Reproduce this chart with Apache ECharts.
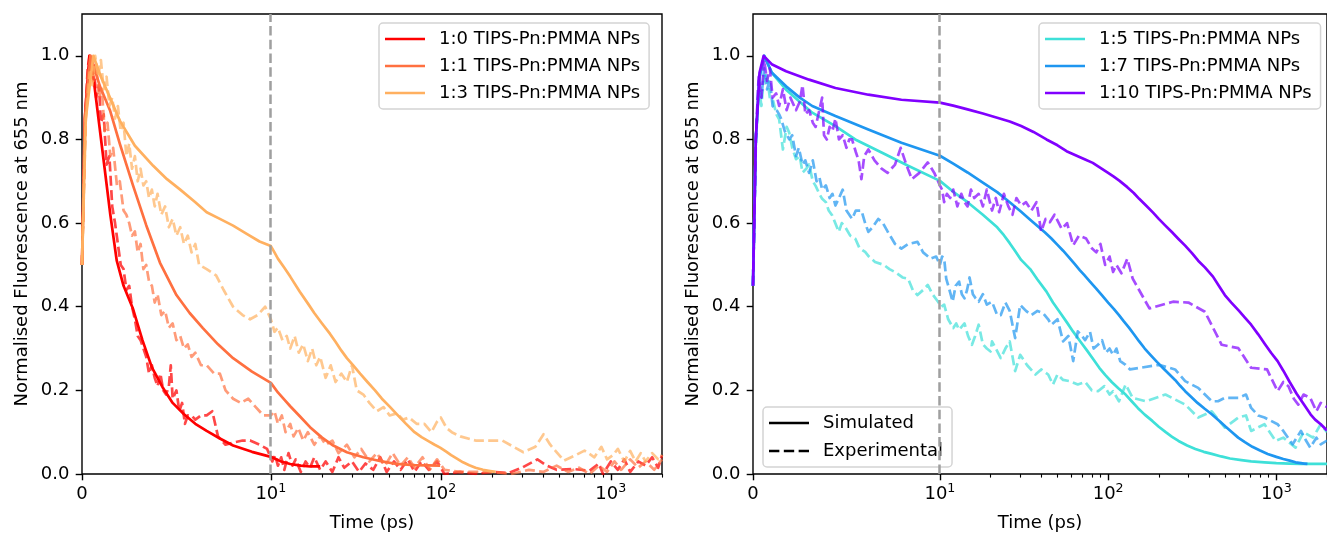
<!DOCTYPE html>
<html><head><meta charset="utf-8">
<script src="https://cdn.jsdelivr.net/npm/echarts@6/dist/echarts.min.js"></script>
<style>html,body{margin:0;padding:0;background:#fff}#c{width:1327px;height:537px}</style>
</head><body><div id="c"></div>
<script>
// ---------------- DATA (time in ps, normalised fluorescence) ----------------
const namesLeft = ['1:0 TIPS-Pn:PMMA NPs', '1:1 TIPS-Pn:PMMA NPs', '1:3 TIPS-Pn:PMMA NPs'];
const namesRight = ['1:5 TIPS-Pn:PMMA NPs', '1:7 TIPS-Pn:PMMA NPs', '1:10 TIPS-Pn:PMMA NPs'];
const styleNames = ['Simulated', 'Experimental'];
const refLineTime = 10;
const majorTickTimes = [0, 10, 100, 1000];
const majorTickLabels = ['{b|0}', '{b|10}{s|1}', '{b|10}{s|2}', '{b|10}{s|3}'];
const minorTickTimes = [20, 30, 40, 50, 60, 70, 80, 90, 200, 300, 400, 500, 600, 700, 800, 900, 2000];
const yTickValues = [0, 0.2, 0.4, 0.6, 0.8, 1.0];

const sim_1_0 = [[0,0.5],[0.15,0.85],[0.39,1.0],[0.6,0.95],[0.9,0.84],[1.2,0.73],[1.5,0.62],[1.84,0.51],[2.2,0.45],[2.7,0.395],[3.2,0.32],[3.7,0.255],[4.3,0.205],[4.8,0.17],[5.4,0.143],[6.0,0.12],[6.6,0.103],[7.3,0.085],[8.0,0.068],[9.0,0.053],[10,0.041],[11.5,0.03],[13,0.024],[15,0.02],[17,0.018],[19.5,0.018]];
const sim_1_1 = [[0,0.5],[0.15,0.85],[0.45,1.0],[0.95,0.927],[1.48,0.87],[2.0,0.79],[2.7,0.69],[3.4,0.595],[4.13,0.505],[5.0,0.428],[5.7,0.385],[6.4,0.349],[7.2,0.31],[8.0,0.277],[9.0,0.245],[10,0.218],[11,0.195],[12,0.178],[13,0.162],[14.8,0.138],[17,0.112],[20,0.087],[23.3,0.068],[28,0.052],[35,0.04],[45,0.03],[55,0.024],[70,0.021],[99,0.02]];
const sim_1_3 = [[0,0.5],[0.2,0.85],[0.6,1.0],[1.0,0.95],[1.48,0.9],[2.0,0.845],[2.8,0.785],[3.77,0.737],[4.5,0.705],[5.2,0.68],[6.0,0.65],[6.6,0.626],[7.3,0.61],[8.0,0.594],[8.7,0.575],[9.4,0.556],[10,0.545],[10.5,0.53],[11,0.515],[12,0.493],[13,0.472],[14.8,0.436],[16.5,0.408],[18,0.385],[20,0.36],[22.3,0.335],[24,0.316],[26,0.295],[28,0.277],[30.5,0.26],[33.5,0.24],[37,0.22],[41,0.2],[45,0.18],[50,0.161],[55,0.143],[62,0.121],[70,0.1],[77,0.088],[85,0.078],[92,0.07],[99,0.063],[107,0.054],[115,0.045],[125,0.036],[135,0.028],[147,0.021],[160,0.015],[177,0.01],[195,0.007],[210,0.005]];

const exp_1_0 = [[0,0.5],[0.1,0.7],[0.2,0.88],[0.3,0.97],[0.4,1.0],[0.5,0.96],[0.6,0.99],[0.75,0.9],[0.9,0.93],[1.0,0.84],[1.15,0.86],[1.3,0.74],[1.45,0.76],[1.6,0.64],[1.75,0.6],[1.9,0.55],[2.05,0.5],[2.2,0.49],[2.35,0.44],[2.5,0.45],[2.65,0.4],[2.8,0.37],[2.95,0.33],[3.1,0.32],[3.25,0.3],[3.4,0.28],[3.55,0.24],[3.7,0.26],[3.85,0.23],[4.0,0.21],[4.15,0.24],[4.3,0.2],[4.45,0.19],[4.6,0.21],[4.7,0.26],[4.8,0.18],[5.0,0.2],[5.15,0.15],[5.3,0.17],[5.45,0.12],[5.6,0.14],[5.8,0.14],[6.0,0.13],[6.3,0.14],[6.6,0.14],[6.9,0.15],[7.2,0.09],[7.6,0.07],[8.0,0.075],[8.5,0.08],[8.9,0.08],[9.4,0.07],[9.8,0.06],[10.2,0.03],[10.6,0.045],[11,0.02],[11.5,0.04],[12,0.01],[12.7,0.05],[13.4,0.02],[14,0.035],[15,0.005],[16,0.03],[17,0.015],[18,0.04],[19.5,0.01],[21,0.03],[23,0.005],[25,0.04],[27,0.015],[30,0.03],[33,0.005],[36,0.025],[40,0.01],[44,0.04],[48,0.005],[53,0.03],[58,0.01],[64,0.035],[70,0.005],[77,0.03],[85,0.01],[95,0.03],[105,0.0],[130,0.005],[160,0.0],[200,0.005],[250,0.002],[300,0.015],[370,0.035],[420,0.02],[480,0.01],[600,0.012],[750,0.008],[850,0.025],[900,0.0],[1000,0.03],[1100,0.01],[1200,0.035],[1300,0.005],[1450,0.03],[1600,0.02],[1750,0.04],[1900,0.015],[2000,0.045]];
const exp_1_1 = [[0,0.5],[0.15,0.8],[0.3,0.95],[0.45,1.0],[0.6,0.94],[0.75,0.98],[0.9,0.9],[1.05,0.92],[1.2,0.82],[1.35,0.84],[1.5,0.76],[1.65,0.78],[1.85,0.69],[2.0,0.7],[2.2,0.63],[2.35,0.62],[2.5,0.6],[2.65,0.57],[2.8,0.58],[2.95,0.53],[3.1,0.55],[3.25,0.49],[3.4,0.5],[3.55,0.46],[3.7,0.45],[3.85,0.41],[4.0,0.43],[4.2,0.38],[4.4,0.39],[4.6,0.35],[4.8,0.36],[5.0,0.32],[5.2,0.33],[5.4,0.3],[5.6,0.31],[5.8,0.28],[6.0,0.29],[6.3,0.26],[6.6,0.26],[7.0,0.24],[7.3,0.24],[7.6,0.2],[8.0,0.18],[8.4,0.17],[8.8,0.18],[9.2,0.16],[9.6,0.14],[10.0,0.14],[10.5,0.15],[11,0.12],[11.6,0.14],[12.2,0.1],[13,0.12],[13.6,0.09],[14.5,0.11],[15.5,0.08],[16.5,0.1],[18,0.07],[19.5,0.09],[21,0.07],[23,0.08],[25,0.05],[28,0.07],[31,0.04],[34,0.06],[38,0.03],[42,0.05],[47,0.02],[52,0.05],[58,0.02],[64,0.04],[70,0.015],[78,0.04],[86,0.01],[95,0.035],[105,0.01],[130,0.005],[200,0.005],[260,0.0],[330,0.01],[400,0.005],[480,0.02],[560,0.005],[650,0.015],[750,0.0],[850,0.02],[950,0.005],[1050,0.03],[1150,0.01],[1300,0.035],[1450,0.015],[1600,0.03],[1800,0.01],[2000,0.035]];
const exp_1_3 = [[0,0.5],[0.2,0.85],[0.4,0.96],[0.55,0.93],[0.7,1.0],[0.85,0.95],[1.0,0.99],[1.15,0.92],[1.3,0.95],[1.45,0.88],[1.6,0.9],[1.75,0.85],[1.9,0.88],[2.05,0.82],[2.2,0.84],[2.35,0.76],[2.5,0.79],[2.65,0.73],[2.8,0.76],[2.95,0.7],[3.1,0.73],[3.25,0.69],[3.4,0.7],[3.55,0.66],[3.7,0.68],[3.85,0.64],[4.0,0.67],[4.2,0.62],[4.4,0.64],[4.6,0.59],[4.8,0.61],[5.0,0.57],[5.2,0.59],[5.4,0.55],[5.6,0.57],[5.8,0.53],[6.0,0.55],[6.2,0.5],[6.6,0.49],[7.1,0.475],[7.5,0.44],[8.0,0.4],[8.5,0.38],[8.9,0.37],[9.3,0.38],[9.7,0.4],[10.0,0.37],[10.5,0.34],[11,0.35],[11.7,0.32],[12.4,0.33],[13,0.3],[13.8,0.33],[14.6,0.29],[15.5,0.31],[16.5,0.27],[17.5,0.3],[18.5,0.26],[19.5,0.28],[21,0.23],[22.5,0.26],[24,0.22],[26,0.24],[28,0.22],[30,0.26],[32,0.2],[35,0.19],[38,0.17],[42,0.15],[46,0.16],[50,0.14],[55,0.145],[60,0.13],[65,0.135],[72,0.12],[80,0.12],[88,0.1],[95,0.125],[100,0.135],[108,0.11],[116,0.1],[130,0.09],[160,0.08],[230,0.08],[306,0.052],[360,0.065],[402,0.095],[440,0.07],[530,0.032],[620,0.045],[700,0.056],[800,0.04],[880,0.065],[950,0.035],[1030,0.045],[1100,0.06],[1200,0.03],[1300,0.055],[1400,0.03],[1500,0.05],[1600,0.03],[1750,0.05],[1900,0.035],[2000,0.045]];

const sim_1_5 = [[0,0.45],[0.15,0.8],[0.35,0.95],[0.6,1.0],[1.0,0.96],[1.77,0.919],[2.5,0.89],[3.17,0.864],[4.41,0.832],[5.47,0.8],[6.88,0.769],[8.3,0.737],[10,0.701],[12,0.675],[14.6,0.65],[18,0.62],[21.9,0.59],[24,0.571],[26,0.552],[28,0.533],[30.4,0.512],[34.4,0.49],[38,0.465],[43,0.436],[47,0.41],[52,0.385],[57,0.362],[61.8,0.341],[68,0.318],[75,0.295],[82,0.273],[88.6,0.254],[96,0.237],[105,0.22],[115,0.205],[127,0.19],[138,0.174],[150,0.158],[165,0.142],[183,0.127],[200,0.113],[220,0.1],[240,0.089],[262,0.079],[295,0.068],[330,0.06],[370,0.053],[413,0.048],[470,0.042],[530,0.037],[620,0.033],[708,0.03],[850,0.028],[1000,0.026],[1200,0.025],[1400,0.024],[2000,0.024]];
const sim_1_7 = [[0,0.45],[0.15,0.8],[0.35,0.95],[0.6,1.0],[1.0,0.96],[1.77,0.927],[2.5,0.9],[3.17,0.88],[4.41,0.856],[6.17,0.824],[7.94,0.792],[10,0.761],[12,0.742],[14.6,0.721],[18,0.697],[21.9,0.674],[26,0.65],[30.4,0.627],[34,0.61],[38,0.593],[42,0.578],[46,0.563],[50,0.548],[54,0.534],[58,0.52],[63,0.503],[68,0.487],[72,0.476],[78,0.46],[84.7,0.444],[92,0.427],[100,0.41],[108,0.395],[116,0.38],[124,0.365],[133,0.35],[143,0.333],[153,0.317],[165,0.3],[180,0.283],[195,0.268],[211,0.254],[230,0.239],[250,0.225],[268,0.211],[287,0.198],[312,0.184],[340,0.17],[375,0.156],[413,0.143],[455,0.128],[500,0.113],[545,0.1],[593,0.087],[650,0.076],[720,0.065],[800,0.056],[888,0.048],[1000,0.041],[1100,0.036],[1200,0.032],[1300,0.028],[1400,0.026],[1459,0.025],[1530,0.024]];
const sim_1_10 = [[0,0.45],[0.15,0.8],[0.35,0.96],[0.57,1.0],[1.0,0.98],[1.77,0.963],[3.0,0.943],[4.41,0.923],[6.17,0.907],[7.94,0.895],[10,0.888],[12,0.881],[14.6,0.872],[18,0.862],[21.9,0.852],[26,0.843],[30.4,0.832],[36,0.818],[43,0.8],[50,0.786],[56.6,0.772],[65,0.761],[73,0.752],[81,0.744],[90,0.732],[100,0.72],[108,0.711],[117,0.701],[130,0.686],[142,0.672],[153,0.658],[168,0.642],[185,0.625],[200,0.61],[219,0.594],[240,0.578],[262,0.562],[287,0.546],[315,0.528],[343,0.51],[376,0.494],[420,0.472],[460,0.447],[494,0.428],[540,0.41],[600,0.39],[650,0.374],[708,0.357],[780,0.334],[850,0.312],[930,0.29],[1017,0.27],[1100,0.247],[1200,0.22],[1320,0.192],[1459,0.166],[1600,0.142],[1700,0.13],[1836,0.119],[2000,0.104]];

const exp_1_5 = [[0,0.45],[0.15,0.78],[0.3,0.93],[0.45,0.88],[0.6,0.96],[0.75,0.95],[0.9,0.9],[1.06,0.895],[1.25,0.86],[1.4,0.848],[1.6,0.776],[1.8,0.83],[1.94,0.816],[2.1,0.78],[2.3,0.753],[2.5,0.76],[2.65,0.721],[2.85,0.73],[3.0,0.74],[3.2,0.7],[3.35,0.689],[3.55,0.67],[3.7,0.658],[3.9,0.65],[4.05,0.63],[4.24,0.618],[4.4,0.6],[4.59,0.579],[4.75,0.6],[4.94,0.59],[5.2,0.57],[5.47,0.563],[5.7,0.54],[6.0,0.531],[6.2,0.52],[6.53,0.507],[7.0,0.5],[7.3,0.49],[7.6,0.483],[8.0,0.47],[8.3,0.467],[8.55,0.44],[8.8,0.428],[9.1,0.44],[9.35,0.452],[9.6,0.43],[9.9,0.412],[10.2,0.4],[10.6,0.405],[11.2,0.37],[12.0,0.349],[12.5,0.36],[13,0.345],[14,0.36],[14.7,0.33],[15.5,0.309],[16.2,0.33],[17,0.357],[18,0.31],[19,0.3],[20,0.293],[20.4,0.317],[21.5,0.3],[23,0.277],[24.5,0.3],[26,0.317],[28,0.246],[30,0.285],[33,0.26],[37,0.238],[40,0.25],[44,0.238],[47,0.214],[50,0.238],[54,0.225],[59,0.222],[66,0.214],[73,0.22],[80,0.2],[87,0.198],[95,0.21],[102,0.19],[107,0.198],[116,0.174],[127,0.214],[140,0.182],[168,0.174],[219,0.19],[287,0.166],[343,0.135],[413,0.15],[494,0.111],[594,0.135],[660,0.14],[708,0.103],[850,0.119],[990,0.079],[1100,0.087],[1300,0.063],[1450,0.1],[1650,0.087],[1836,0.119],[2000,0.1]];
const exp_1_7 = [[0,0.45],[0.15,0.8],[0.3,0.94],[0.45,0.9],[0.6,0.97],[0.75,0.92],[0.9,0.943],[1.05,0.88],[1.24,0.872],[1.4,0.86],[1.5,0.85],[1.7,0.82],[1.94,0.8],[2.1,0.81],[2.3,0.76],[2.45,0.78],[2.65,0.74],[2.8,0.75],[3.0,0.72],[3.2,0.75],[3.4,0.7],[3.55,0.71],[3.7,0.68],[3.9,0.69],[4.1,0.66],[4.25,0.67],[4.41,0.642],[4.6,0.66],[4.8,0.68],[5.0,0.63],[5.3,0.61],[5.5,0.63],[5.8,0.63],[6.0,0.6],[6.17,0.579],[6.4,0.59],[6.7,0.61],[6.95,0.6],[7.2,0.58],[7.6,0.55],[7.94,0.539],[8.3,0.55],[8.8,0.555],[9.1,0.53],[9.5,0.515],[9.8,0.52],[10,0.5],[10.3,0.52],[10.6,0.515],[10.9,0.467],[11.4,0.44],[11.9,0.412],[12.4,0.45],[13,0.46],[13.5,0.43],[14,0.42],[14.5,0.44],[15,0.47],[15.7,0.43],[16.3,0.42],[17,0.412],[18,0.43],[19,0.405],[20.4,0.412],[21.9,0.38],[23,0.38],[24.5,0.41],[26,0.39],[28,0.325],[30,0.404],[32.5,0.39],[35,0.38],[38,0.39],[41,0.385],[44,0.37],[46,0.357],[50,0.37],[54,0.317],[58,0.33],[62,0.27],[66,0.341],[70,0.33],[73,0.32],[78,0.34],[82,0.3],[87,0.309],[92,0.32],[97,0.29],[102,0.3],[107,0.285],[112,0.3],[118,0.27],[127,0.261],[135,0.25],[200,0.261],[250,0.25],[287,0.222],[343,0.206],[413,0.174],[450,0.174],[494,0.182],[594,0.182],[660,0.19],[708,0.158],[780,0.14],[850,0.135],[1017,0.119],[1100,0.103],[1250,0.071],[1400,0.103],[1500,0.08],[1590,0.063],[1730,0.087],[1836,0.071],[2000,0.08]];
const exp_1_10 = [[0,0.45],[0.15,0.8],[0.3,0.95],[0.45,0.9],[0.6,0.99],[0.75,0.94],[0.9,0.97],[1.05,0.9],[1.24,0.91],[1.4,0.88],[1.6,0.92],[1.8,0.87],[2.0,0.9],[2.3,0.87],[2.5,0.89],[2.65,0.93],[2.8,0.86],[3.0,0.87],[3.2,0.84],[3.35,0.83],[3.5,0.86],[3.7,0.9],[3.8,0.81],[3.95,0.8],[4.1,0.83],[4.25,0.82],[4.41,0.85],[4.6,0.8],[4.8,0.81],[5.0,0.78],[5.15,0.8],[5.3,0.8],[5.5,0.77],[5.65,0.75],[5.8,0.705],[5.95,0.76],[6.17,0.776],[6.5,0.75],[6.88,0.73],[7.2,0.72],[7.6,0.74],[7.9,0.78],[8.2,0.74],[8.5,0.705],[8.9,0.72],[9.35,0.745],[9.7,0.72],[10.0,0.69],[10.3,0.68],[10.6,0.65],[11.0,0.67],[11.5,0.66],[12.0,0.68],[12.7,0.64],[13.4,0.67],[14,0.65],[14.6,0.64],[15.3,0.68],[16,0.66],[17,0.67],[18,0.64],[19,0.68],[20.4,0.63],[21.5,0.66],[22.5,0.626],[24,0.67],[25.5,0.64],[27,0.62],[28.5,0.66],[30.4,0.642],[32.5,0.65],[35,0.63],[37.5,0.65],[40,0.58],[42.5,0.61],[45,0.602],[48,0.62],[53,0.586],[57,0.6],[62,0.547],[67,0.57],[74,0.563],[80,0.54],[85,0.53],[90,0.55],[96,0.5],[102,0.52],[107,0.483],[112,0.5],[120,0.48],[130,0.515],[140,0.467],[176,0.396],[243,0.412],[300,0.41],[376,0.388],[473,0.309],[594,0.301],[708,0.254],[880,0.25],[1017,0.198],[1100,0.22],[1180,0.21],[1270,0.18],[1350,0.166],[1450,0.19],[1590,0.182],[1730,0.15],[1836,0.17],[2000,0.16]];

// ---------------- SCALE: matplotlib-like symlog (linthresh 10, linscale 1) ----------------
const LINTHRESH = 10, LINSCALE = 1 / (1 - 1 / 10);
function sx(x) { return x <= LINTHRESH ? x / LINTHRESH * LINSCALE : LINSCALE + Math.log10(x / LINTHRESH); }
const X_MAX = sx(2000);
const toXY = arr => arr.map(p => [sx(p[0]), p[1]]);

const FONT = 'DejaVu Sans';
const LW = 2.7, DASH = [10, 4.3];
const colorsLeft = ['#ff0000', '#ff7040', '#ffb060'];
const expColorsLeft = ['rgba(255,0,0,0.72)', 'rgba(255,112,64,0.7)', 'rgba(255,176,96,0.7)'];
const colorsRight = ['#3ee0d8', '#1e96f0', '#8000ff'];
const expColorsRight = ['rgba(62,224,216,0.7)', 'rgba(30,150,240,0.7)', 'rgba(128,0,255,0.7)'];
const ICON_SOLID = 'path://M0,0h40v2.7h-40z';
const ICON_DASHED = 'path://M0,0h10v2.7h-10z M14.3,0h10v2.7h-10z M28.6,0h10v2.7h-10z';

function xLabel(v) {
  for (let i = 0; i < majorTickTimes.length; i++) {
    if (Math.abs(sx(majorTickTimes[i]) - v) < 1e-6) return majorTickLabels[i];
  }
  return '';
}
function xMajor(gi) {
  return {
    type: 'value', gridIndex: gi, min: 0, max: X_MAX, position: 'bottom',
    axisLine: { show: false }, splitLine: { show: false },
    axisTick: { show: true, customValues: majorTickTimes.map(sx), length: 6.3, lineStyle: { color: '#000', width: 1.4 } },
    axisLabel: {
      customValues: majorTickTimes.map(sx), formatter: xLabel, margin: 10, color: '#000',
      rich: {
        b: { fontFamily: FONT, fontSize: 18, color: '#000', lineHeight: 20 },
        s: { fontFamily: FONT, fontSize: 12.6, color: '#000', lineHeight: 20, padding: [0, 0, 10, 0] }
      }
    },
    name: 'Time (ps)', nameLocation: 'middle', nameGap: 40,
    nameTextStyle: { fontFamily: FONT, fontSize: 18, color: '#000' }
  };
}
function xMinor(gi) {
  return {
    type: 'value', gridIndex: gi, min: 0, max: X_MAX, position: 'bottom',
    axisLine: { show: false }, splitLine: { show: false },
    axisTick: { show: true, customValues: minorTickTimes.map(sx), length: 3.6, lineStyle: { color: '#000', width: 1.1 } },
    axisLabel: { show: false }
  };
}
function yAx(gi) {
  return {
    type: 'value', gridIndex: gi, min: 0, max: 1.1,
    axisLine: { show: false }, splitLine: { show: false },
    axisTick: { show: true, customValues: yTickValues, length: 6.3, lineStyle: { color: '#000', width: 1.4 } },
    axisLabel: { customValues: yTickValues, formatter: v => v.toFixed(1), margin: 12.6, fontFamily: FONT, fontSize: 18, color: '#000' },
    name: 'Normalised Fluorescence at 655 nm', nameLocation: 'middle', nameGap: 51, nameRotate: 90,
    nameTextStyle: { fontFamily: FONT, fontSize: 18, color: '#000' }
  };
}
const refLine = {
  silent: true, symbol: 'none', animation: false,
  label: { show: false },
  lineStyle: { color: '#9f9f9f', width: 2.5, type: [9.5, 4.2] },
  data: [{ xAxis: sx(refLineTime) }]
};
function solid(name, data, color, xi, yi, withRef) {
  const s = {
    type: 'line', name, data: toXY(data), xAxisIndex: xi, yAxisIndex: yi,
    showSymbol: false, symbol: 'none', color, animation: false, silent: true,
    lineStyle: { color, width: LW, join: 'round' }
  };
  if (withRef) s.markLine = refLine;
  return s;
}
function dashed(name, data, color, xi, yi) {
  return {
    type: 'line', name, data: toXY(data), xAxisIndex: xi, yAxisIndex: yi,
    showSymbol: false, symbol: 'none', color, animation: false, silent: true,
    lineStyle: { color, width: LW, type: DASH, join: 'round' }
  };
}
const legendBase = {
  orient: 'vertical', itemWidth: 40, itemHeight: 2.7, itemGap: 9, padding: [7, 9, 7, 6],
  selectedMode: false, symbolKeepAspect: false,
  textStyle: { fontFamily: FONT, fontSize: 18, color: '#000', lineHeight: 18, padding: [0, 0, 0, 9] },
  backgroundColor: 'rgba(255,255,255,0.8)', borderColor: '#d4d4d4', borderWidth: 1.5, borderRadius: 4
};

const option = {
  animation: false,
  backgroundColor: '#fff',
  grid: [
    { left: 82, top: 14, width: 580, height: 463, show: true, borderColor: '#000', borderWidth: 1.4, backgroundColor: 'transparent' },
    { left: 753, top: 14, width: 580, height: 463, show: true, borderColor: '#000', borderWidth: 1.4, backgroundColor: 'transparent' }
  ],
  xAxis: [xMajor(0), xMinor(0), xMajor(1), xMinor(1)],
  yAxis: [yAx(0), yAx(1)],
  legend: [
    Object.assign({}, legendBase, { left: 379, top: 23, data: namesLeft.map(n => ({ name: n, icon: ICON_SOLID })) }),
    Object.assign({}, legendBase, { left: 1039, top: 23, data: namesRight.map(n => ({ name: n, icon: ICON_SOLID })) }),
    Object.assign({}, legendBase, { left: 763, top: 407, itemGap: 10, data: [
      { name: styleNames[0], icon: ICON_SOLID }, { name: styleNames[1], icon: ICON_DASHED }] })
  ],
  series: [
    solid(namesLeft[0], sim_1_0, colorsLeft[0], 0, 0, true),
    dashed('exp 1:0', exp_1_0, expColorsLeft[0], 0, 0),
    solid(namesLeft[1], sim_1_1, colorsLeft[1], 0, 0),
    dashed('exp 1:1', exp_1_1, expColorsLeft[1], 0, 0),
    solid(namesLeft[2], sim_1_3, colorsLeft[2], 0, 0),
    dashed('exp 1:3', exp_1_3, expColorsLeft[2], 0, 0),
    solid(namesRight[0], sim_1_5, colorsRight[0], 2, 1, true),
    dashed('exp 1:5', exp_1_5, expColorsRight[0], 2, 1),
    solid(namesRight[1], sim_1_7, colorsRight[1], 2, 1),
    dashed('exp 1:7', exp_1_7, expColorsRight[1], 2, 1),
    solid(namesRight[2], sim_1_10, colorsRight[2], 2, 1),
    dashed('exp 1:10', exp_1_10, expColorsRight[2], 2, 1),
    { type: 'line', name: styleNames[0], data: [], xAxisIndex: 2, yAxisIndex: 1, symbol: 'none', color: '#000', lineStyle: { color: '#000', width: LW } },
    { type: 'line', name: styleNames[1], data: [], xAxisIndex: 2, yAxisIndex: 1, symbol: 'none', color: '#000', lineStyle: { color: '#000', width: LW, type: DASH } }
  ]
};
const chart = echarts.init(document.getElementById('c'), null, { renderer: 'canvas' });
chart.setOption(option);
</script></body></html>
